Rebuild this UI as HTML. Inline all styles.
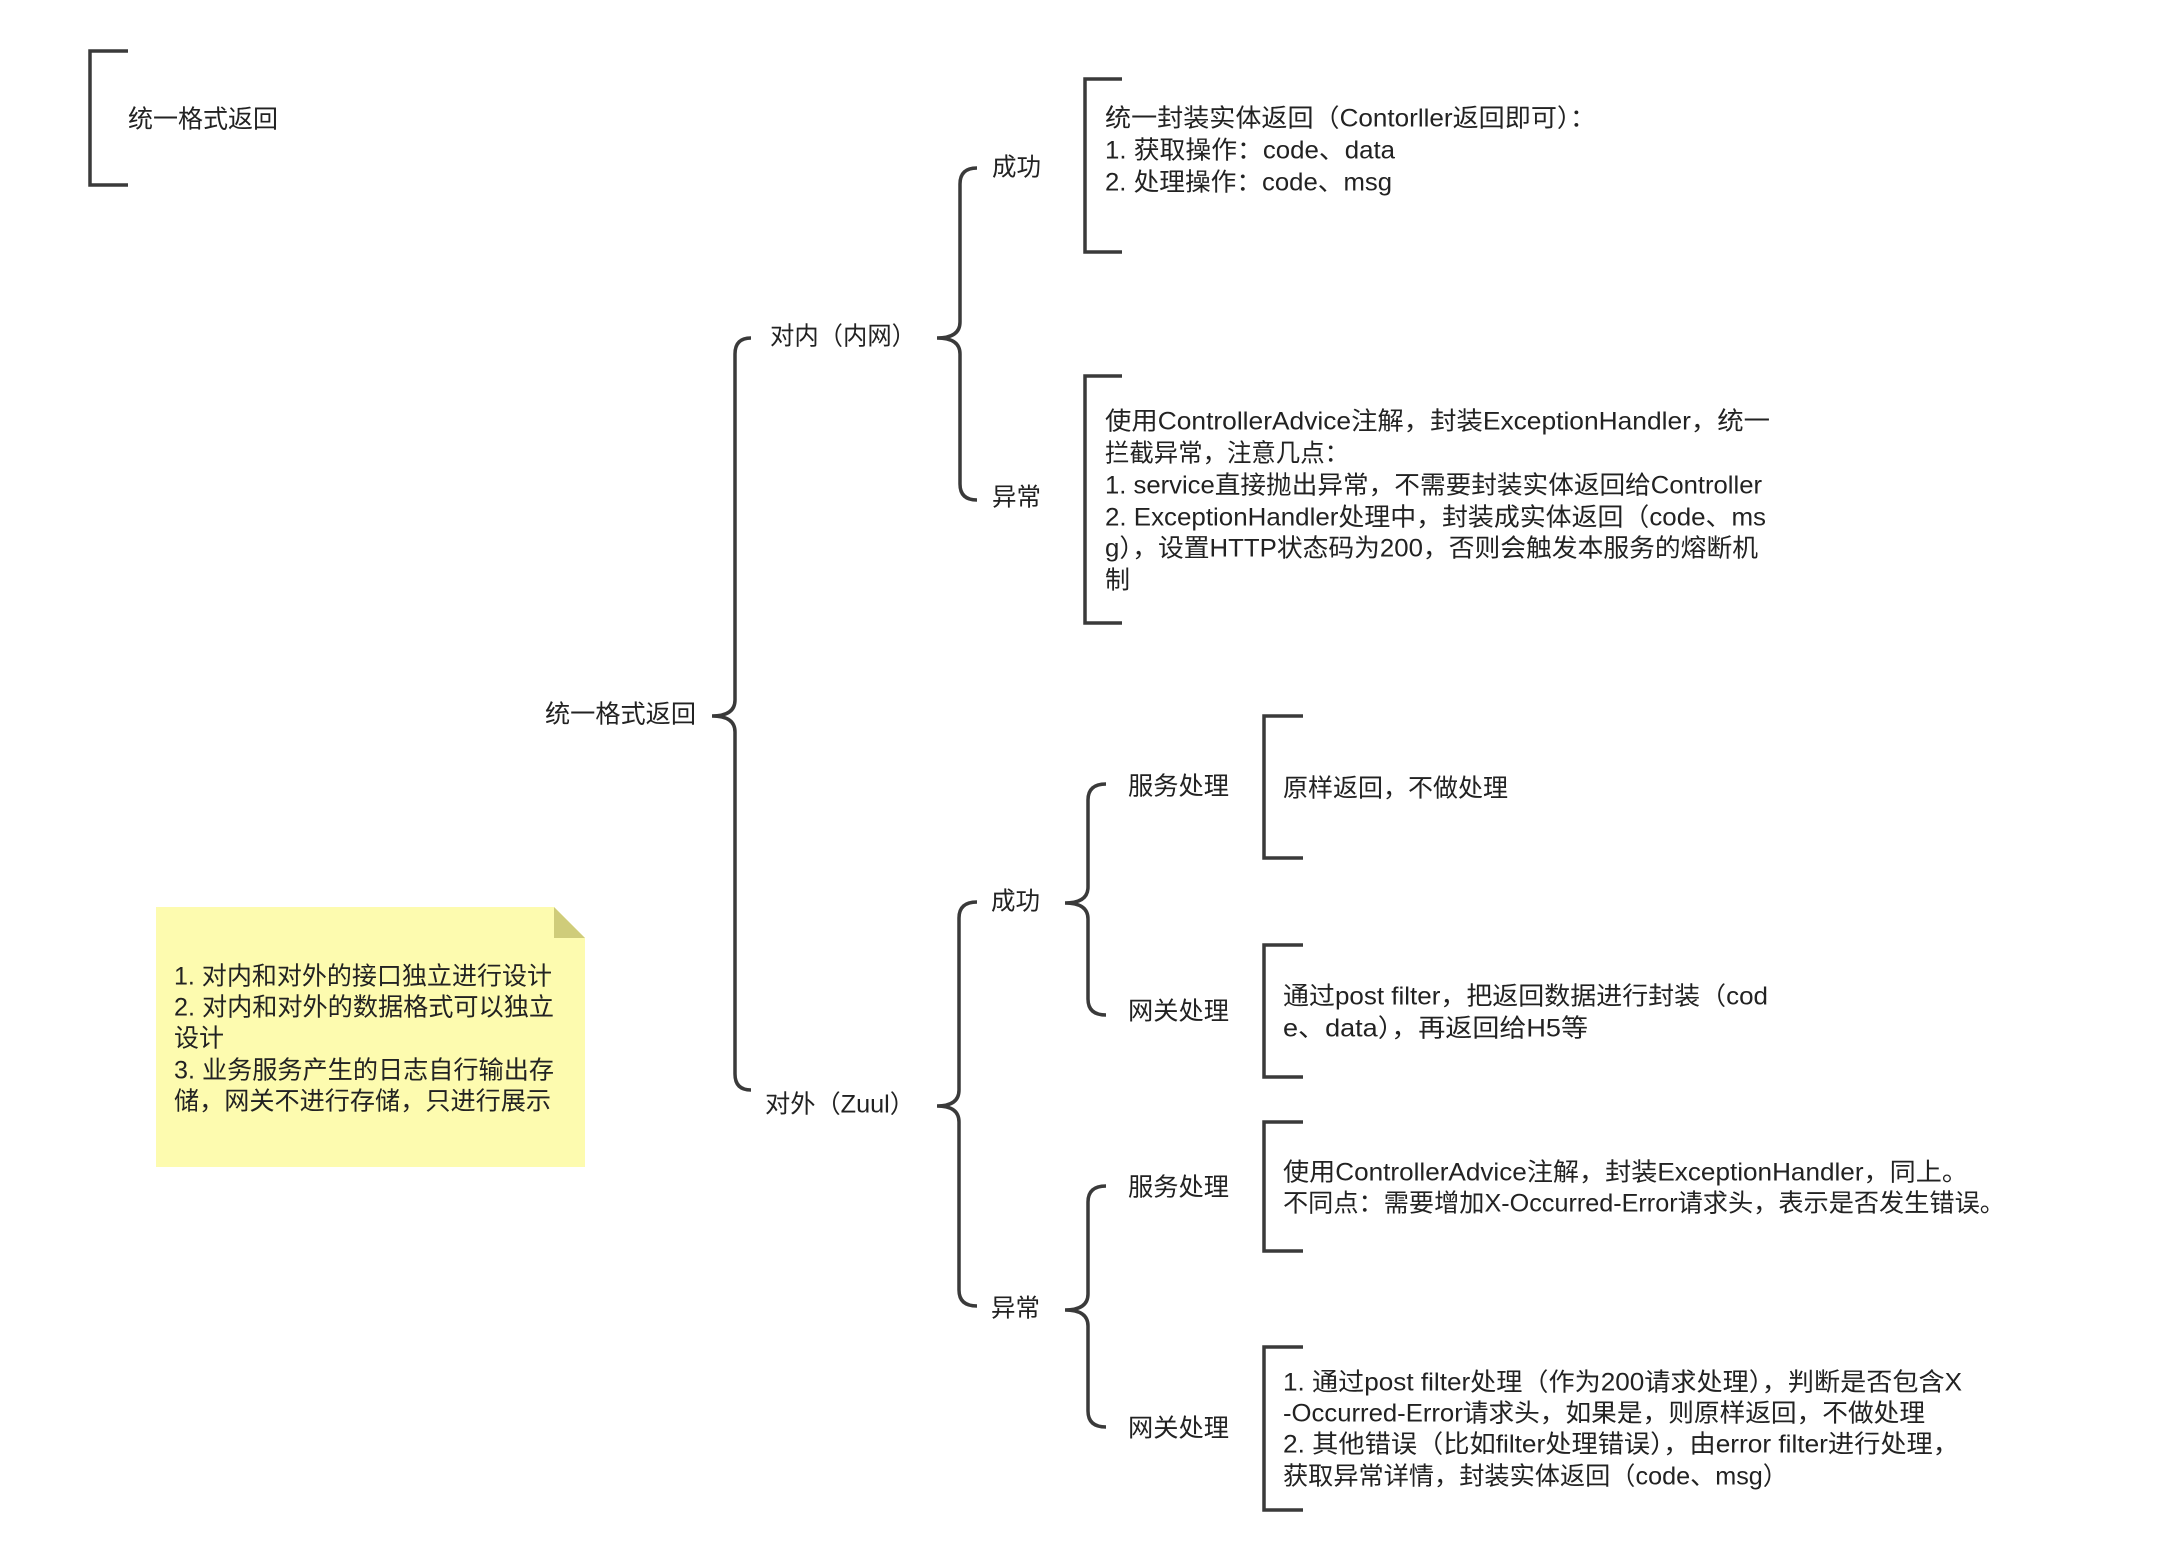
<!DOCTYPE html>
<html><head><meta charset="utf-8"><style>
html,body{margin:0;padding:0;background:#fff;}
svg{display:block;}
text{font-family:"Liberation Sans","Noto Sans CJK SC",sans-serif;font-size:25px;fill:#222;dominant-baseline:middle;}
.l{fill:none;stroke:#3a3a3a;stroke-width:3.5;}
</style></head><body>
<svg width="2174" height="1554" viewBox="0 0 2174 1554" xmlns="http://www.w3.org/2000/svg">
<path class="l" d="M128 51 L90 51 L90 185 L128 185"/>
<text x="128" y="121" textLength="150" lengthAdjust="spacingAndGlyphs">统一格式返回</text>

<text x="545" y="716" textLength="151" lengthAdjust="spacingAndGlyphs">统一格式返回</text>
<path class="l" d="M751 338 Q735 338 735 354 L735 700 Q735 716 712 716 Q735 716 735 732 L735 1074 Q735 1090 751 1090"/>

<text x="770" y="338" textLength="146" lengthAdjust="spacingAndGlyphs">对内（内网）</text>
<text x="765" y="1106" textLength="150" lengthAdjust="spacingAndGlyphs">对外（Zuul）</text>

<path class="l" d="M977 168 Q960 168 960 184 L960 322 Q960 338 937 338 Q960 338 960 354 L960 484 Q960 500 977 500"/>
<text x="992" y="169" textLength="49" lengthAdjust="spacingAndGlyphs">成功</text>
<text x="992" y="499" textLength="49" lengthAdjust="spacingAndGlyphs">异常</text>

<path class="l" d="M1122 79 L1085 79 L1085 252 L1122 252"/>
<text x="1105" y="120" textLength="491" lengthAdjust="spacingAndGlyphs">统一封装实体返回（Contorller返回即可）：</text>
<text x="1105" y="152" textLength="290" lengthAdjust="spacingAndGlyphs">1. 获取操作：code、data</text>
<text x="1105" y="184" textLength="287" lengthAdjust="spacingAndGlyphs">2. 处理操作：code、msg</text>

<path class="l" d="M1122 376 L1085 376 L1085 623 L1122 623"/>
<text x="1105" y="423" textLength="665" lengthAdjust="spacingAndGlyphs">使用ControllerAdvice注解，封装ExceptionHandler，统一</text>
<text x="1105" y="455" textLength="244" lengthAdjust="spacingAndGlyphs">拦截异常，注意几点：</text>
<text x="1105" y="487" textLength="657" lengthAdjust="spacingAndGlyphs">1. service直接抛出异常，不需要封装实体返回给Controller</text>
<text x="1105" y="519" textLength="661" lengthAdjust="spacingAndGlyphs">2. ExceptionHandler处理中，封装成实体返回（code、ms</text>
<text x="1105" y="550" textLength="653" lengthAdjust="spacingAndGlyphs">g），设置HTTP状态码为200，否则会触发本服务的熔断机</text>
<text x="1105" y="582">制</text>

<path class="l" d="M977 902 Q959 902 959 918 L959 1090 Q959 1106 937 1106 Q959 1106 959 1122 L959 1290 Q959 1306 977 1306"/>
<text x="991" y="903" textLength="49" lengthAdjust="spacingAndGlyphs">成功</text>
<text x="991" y="1310" textLength="49" lengthAdjust="spacingAndGlyphs">异常</text>

<path class="l" d="M1106 784 Q1088 784 1088 800 L1088 887 Q1088 903 1065 903 Q1088 903 1088 919 L1088 999 Q1088 1015 1106 1015"/>
<text x="1128" y="788" textLength="101" lengthAdjust="spacingAndGlyphs">服务处理</text>
<text x="1128" y="1013" textLength="101" lengthAdjust="spacingAndGlyphs">网关处理</text>

<path class="l" d="M1106 1186 Q1088 1186 1088 1202 L1088 1294 Q1088 1310 1065 1310 Q1088 1310 1088 1326 L1088 1411 Q1088 1427 1106 1427"/>
<text x="1128" y="1189" textLength="101" lengthAdjust="spacingAndGlyphs">服务处理</text>
<text x="1128" y="1430" textLength="101" lengthAdjust="spacingAndGlyphs">网关处理</text>

<path class="l" d="M1303 716 L1264 716 L1264 858 L1303 858"/>
<text x="1283" y="790" textLength="225" lengthAdjust="spacingAndGlyphs">原样返回，不做处理</text>

<path class="l" d="M1303 945 L1264 945 L1264 1077 L1303 1077"/>
<text x="1283" y="998" textLength="485" lengthAdjust="spacingAndGlyphs">通过post filter，把返回数据进行封装（cod</text>
<text x="1283" y="1030" textLength="305" lengthAdjust="spacingAndGlyphs">e、data），再返回给H5等</text>

<path class="l" d="M1303 1122 L1264 1122 L1264 1251 L1303 1251"/>
<text x="1283" y="1174" textLength="685" lengthAdjust="spacingAndGlyphs">使用ControllerAdvice注解，封装ExceptionHandler，同上。</text>
<text x="1283" y="1205" textLength="722" lengthAdjust="spacingAndGlyphs">不同点：需要增加X-Occurred-Error请求头，表示是否发生错误。</text>

<path class="l" d="M1303 1347 L1264 1347 L1264 1510 L1303 1510"/>
<text x="1283" y="1384" textLength="679" lengthAdjust="spacingAndGlyphs">1. 通过post filter处理（作为200请求处理），判断是否包含X</text>
<text x="1283" y="1415" textLength="642" lengthAdjust="spacingAndGlyphs">-Occurred-Error请求头，如果是，则原样返回，不做处理</text>
<text x="1283" y="1446" textLength="676" lengthAdjust="spacingAndGlyphs">2. 其他错误（比如filter处理错误），由error filter进行处理，</text>
<text x="1283" y="1478" textLength="505" lengthAdjust="spacingAndGlyphs">获取异常详情，封装实体返回（code、msg）</text>

<path d="M156 907 L554 907 L585 938 L585 1167 L156 1167 Z" fill="#fdfbaf"/>
<path d="M554 907 L585 938 L554 938 Z" fill="#cfcc7a"/>
<text x="174" y="978" textLength="378" lengthAdjust="spacingAndGlyphs">1. 对内和对外的接口独立进行设计</text>
<text x="174" y="1009" textLength="380" lengthAdjust="spacingAndGlyphs">2. 对内和对外的数据格式可以独立</text>
<text x="174" y="1040">设计</text>
<text x="174" y="1072" textLength="380" lengthAdjust="spacingAndGlyphs">3. 业务服务产生的日志自行输出存</text>
<text x="174" y="1103" textLength="377" lengthAdjust="spacingAndGlyphs">储，网关不进行存储，只进行展示</text>
</svg>
</body></html>
